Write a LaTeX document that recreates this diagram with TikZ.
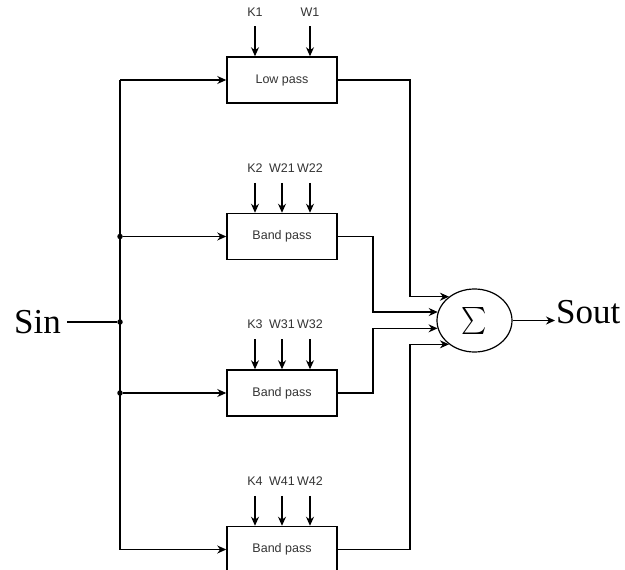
\documentclass[tikz,border=0pt]{standalone}
\usepackage{fontspec}
\setmainfont{Liberation Serif}
\setsansfont{Liberation Sans}
\usepackage{graphicx}
\usepackage{xcolor}
\definecolor{labelgray}{HTML}{333333}
\usetikzlibrary{arrows.meta,positioning,shapes.geometric}

\tikzset{
  filterbox/.style={draw,line width=1.5pt,minimum width=110pt,minimum height=46pt,
    font=\sffamily\fontsize{12.5}{14}\selectfont,text=labelgray},
  param/.style={font=\sffamily\fontsize{12.5}{14}\selectfont,text=labelgray,inner sep=0pt},
  wire/.style={line width=1.3pt},
  feed/.style={wire,-{Stealth[length=9pt,width=8pt]}},
  junction/.style={circle,fill,inner sep=0pt,minimum size=5.5pt},
  bigtext/.style={font=\fontsize{35}{40}\selectfont,inner sep=1pt}
}

\begin{document}
\begin{tikzpicture}[x=1pt,y=-1pt]
  \useasboundingbox (0,0) rectangle (625,570);

  % Filter bank
  \node[filterbox] (lp) at (282,80) {Low pass};
  \node[filterbox,below=109pt of lp] (bp1) {Band pass};
  \node[filterbox,below=109pt of bp1] (bp2) {Band pass};
  \node[filterbox,below=109pt of bp2] (bp3) {Band pass};

  % Parameters
  \node[param,above=40pt of lp.north,xshift=-27pt] (k1) {K1};
  \node[param,above=40pt of lp.north,xshift=28pt] (w1) {W1};
  \foreach \f/\k in {bp1/2,bp2/3,bp3/4} {
    \node[param,above=40pt of \f.north,xshift=-27pt] (k\k) {K\k};
    \node[param,above=40pt of \f.north] (w\k1) {W\k1};
    \node[param,above=40pt of \f.north,xshift=28pt] (w\k2) {W\k2};
  }
  \foreach \p in {k1,w1} {
    \draw[feed,shorten <=10pt] (\p.south) -- (\p.south |- lp.north);
  }
  \foreach \f/\k in {bp1/2,bp2/3,bp3/4} {
    \foreach \p in {k\k,w\k1,w\k2} {
      \draw[feed,shorten <=10pt] (\p.south) -- (\p.south |- \f.north);
    }
  }

  % Summing point
  \node[draw,ellipse,line width=1.2pt,minimum width=75pt,minimum height=63pt,
        inner sep=0pt] (sum) at (474.5,320.5) {\scalebox{2.4}[2.7]{$\sum$}};

  % Input and output
  \node[bigtext,anchor=east] (sin) at (62,322) {Sin};
  \node[bigtext,anchor=base west] (sout) at (555,323) {Sout};

  % Input bus
  \node[junction] (j0) at (120,322) {};
  \node[junction] (j1) at (j0 |- bp1.west) {};
  \node[junction] (j2) at (j0 |- bp2.west) {};
  \coordinate (btop) at (j0 |- lp.west);
  \coordinate (bbot) at (j0 |- bp3.west);
  \draw[wire] ([xshift=5pt]sin.east) -- (j0);
  \draw[wire] (btop) -- (bbot);
  \draw[feed] (btop) -- (lp);
  \draw[feed] (j1) -- (bp1);
  \draw[feed] (j2) -- (bp2);
  \draw[feed] (bbot) -- (bp3);

  % Outputs to the sum
  \coordinate (colA) at (410,320);
  \coordinate (colB) at (373,320);
  \draw[feed] (lp.east) -| (colA |- sum.137) -- (sum.137);
  \draw[feed] (bp1.east) -| (colB |- sum.167.6) -- (sum.167.6);
  \draw[feed] (bp2.east) -| (colB |- sum.192.4) -- (sum.192.4);
  \draw[feed] (bp3.east) -| (colA |- sum.223) -- (sum.223);
  \draw[feed] (sum.east) -- (sum.east -| sout.west);
\end{tikzpicture}
\end{document}
